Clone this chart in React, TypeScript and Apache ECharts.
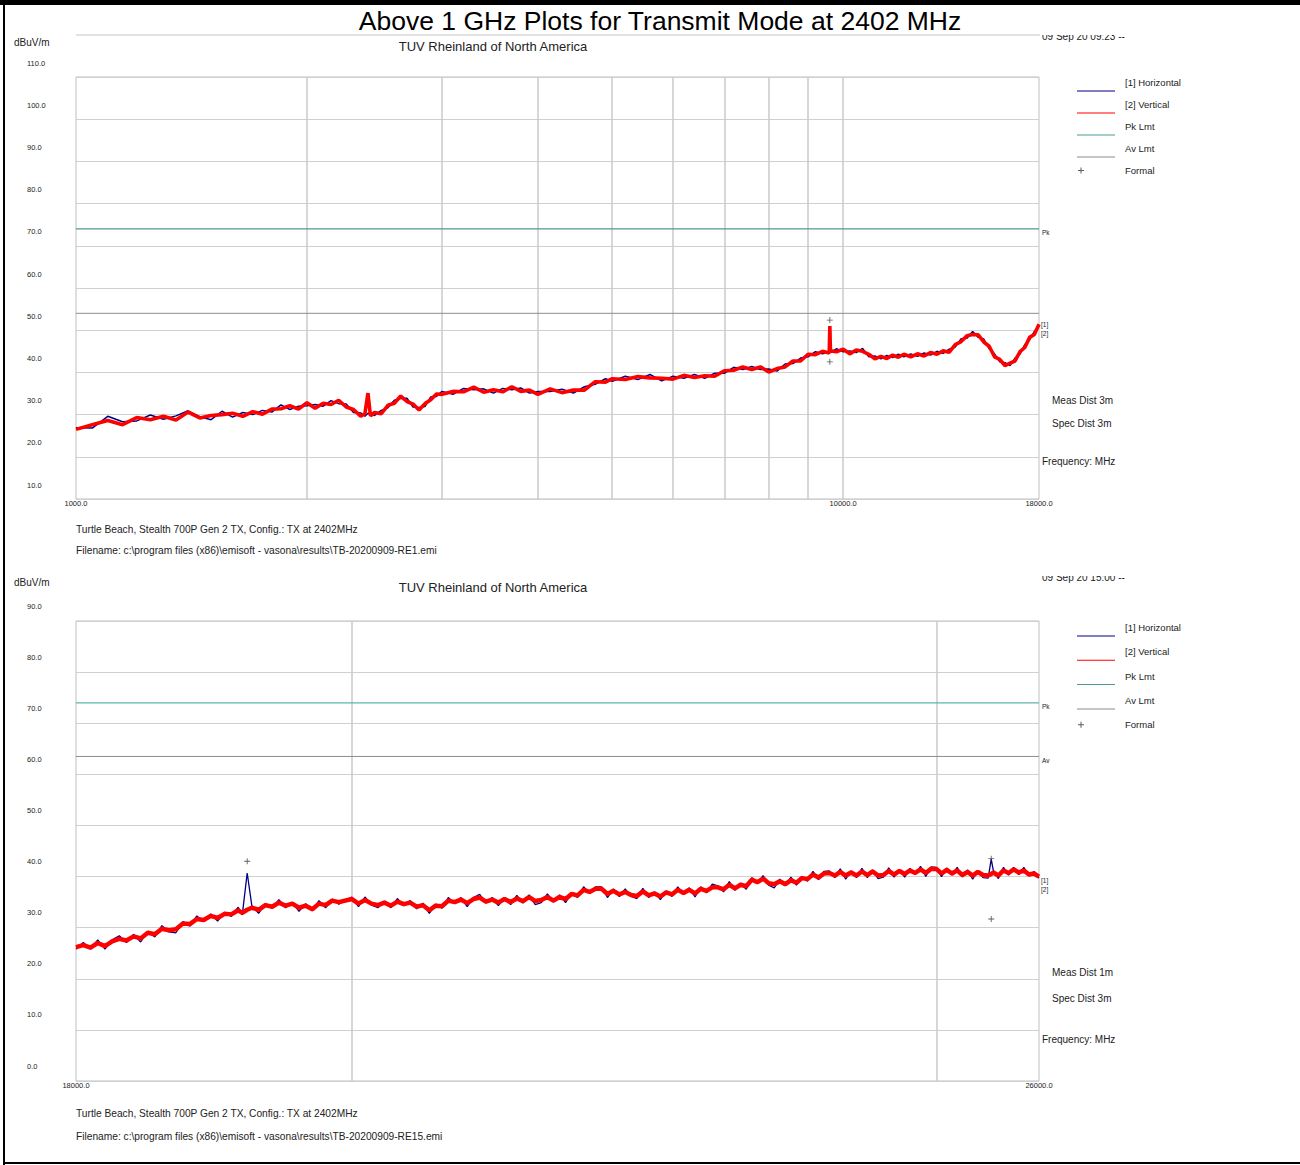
import React, { useEffect, useRef } from "react";
import * as echarts from "echarts";

const FONT = "'Liberation Sans', Arial, Helvetica, sans-serif";

// ---------------- Top plot: 1 – 18 GHz, Meas Dist 3 m ----------------
const TOP_FREQ = [
  1000, 1050, 1100, 1150, 1200, 1250, 1300, 1350, 1400, 1450,
  1500, 1550, 1600, 1650, 1700, 1750, 1800, 1850, 1900, 1950,
  2000, 2050, 2100, 2150, 2200, 2250, 2300, 2350, 2380, 2402,
  2420, 2450, 2500, 2550, 2600, 2650, 2700, 2750, 2800, 2850,
  2900, 2950, 3000, 3100, 3200, 3300, 3400, 3500, 3600, 3700,
  3800, 3900, 4000, 4150, 4300, 4450, 4600, 4750, 4900, 5000,
  5200, 5400, 5600, 5800, 6000, 6200, 6400, 6600, 6800, 7000,
  7200, 7400, 7600, 7800, 8000, 8200, 8400, 8600, 8800, 9000,
  9200, 9400, 9590, 9608, 9625, 9800, 10000, 10200, 10400, 10600,
  10800, 11000, 11200, 11400, 11600, 11800, 12000, 12250, 12500, 12750,
  13000, 13250, 13500, 13750, 14000, 14250, 14500, 14750, 15000, 15250,
  15500, 15750, 16000, 16250, 16500, 16750, 17000, 17250, 17500, 17750,
  18000,
];
const TOP_VERT = [
  26.5, 27.6, 28.6, 27.6, 29.3, 28.8, 29.6, 28.7, 30.6, 29.2,
  29.8, 30.0, 30.3, 29.6, 30.7, 30.1, 31.3, 31.4, 32.1, 31.3,
  32.8, 31.5, 32.7, 32.4, 33.4, 31.8, 31.2, 29.6, 30.2, 35.1,
  29.7, 30.5, 30.2, 32.2, 32.7, 34.4, 33.1, 32.5, 31.1, 32.6,
  33.5, 34.9, 34.8, 35.5, 35.4, 36.5, 35.3, 35.9, 35.4, 36.6,
  35.5, 35.8, 34.8, 36.1, 35.2, 35.8, 35.8, 37.8, 37.7, 38.5,
  38.3, 39.0, 38.7, 38.6, 38.4, 39.3, 38.8, 39.2, 39.1, 40.4,
  40.5, 41.3, 40.7, 41.3, 40.1, 40.9, 41.3, 42.7, 42.7, 44.3,
  44.2, 45.0, 44.6, 51.0, 45.1, 44.9, 45.5, 44.4, 45.3, 45.0,
  44.3, 43.2, 43.8, 43.3, 44.1, 43.6, 44.3, 43.7, 44.4, 43.9,
  44.7, 44.3, 45.1, 44.8, 46.6, 47.3, 48.7, 49.0, 48.9, 47.2,
  46.2, 43.7, 43.1, 41.6, 42.2, 42.7, 44.9, 45.9, 48.3, 49.0,
  51.4,
];
const TOP_HORZ = [
  26.9, 26.8, 29.6, 28.3, 28.5, 29.9, 28.9, 29.7, 30.9, 29.5,
  28.8, 30.8, 29.4, 30.5, 30.0, 31.0, 30.6, 32.3, 31.2, 32.0,
  32.1, 32.4, 32.0, 33.3, 32.6, 32.5, 30.5, 30.4, 29.6, 30.3,
  30.2, 29.8, 31.0, 31.6, 33.4, 33.8, 33.9, 31.8, 31.7, 31.9,
  34.2, 34.3, 35.5, 34.8, 36.2, 35.9, 36.1, 35.1, 36.2, 35.9,
  36.3, 35.1, 35.5, 35.5, 36.0, 35.1, 36.6, 37.2, 38.5, 37.9,
  39.1, 38.3, 39.5, 38.0, 39.1, 38.6, 39.5, 38.6, 39.8, 39.8,
  41.2, 40.7, 41.4, 40.7, 40.8, 40.3, 42.0, 42.1, 43.4, 43.7,
  44.9, 44.4, 45.0, 45.6, 44.7, 45.6, 44.9, 45.1, 44.7, 45.7,
  43.7, 43.9, 43.2, 44.0, 43.5, 44.3, 43.7, 44.4, 43.8, 44.6,
  44.1, 45.0, 44.5, 45.5, 46.0, 48.0, 48.1, 49.7, 48.3, 47.9,
  45.6, 44.4, 42.5, 42.3, 41.6, 43.4, 44.3, 46.6, 47.7, 49.7,
  51.0,
];
const TOP_PK = 74;
const TOP_AV = 54;
const TOP_FORMAL_FREQ = [9608, 9608];
const TOP_FORMAL_VAL = [52.4, 42.5];
const TOP_VGRID = [2000, 3000, 4000, 5000, 6000, 7000, 8000, 9000, 10000];
const TOP_XLABELS = [1000, 10000, 18000];

// ---------------- Bottom plot: 18 – 26 GHz, Meas Dist 1 m ----------------
const BOT_FREQ = [
  18000, 18050, 18100, 18150, 18200, 18250, 18300, 18350, 18400, 18450,
  18500, 18550, 18600, 18650, 18700, 18750, 18800, 18850, 18900, 18950,
  19000, 19050, 19100, 19150, 19180, 19216, 19250, 19300, 19350, 19400,
  19450, 19500, 19550, 19600, 19650, 19700, 19750, 19800, 19850, 19900,
  20000, 20050, 20100, 20150, 20200, 20250, 20300, 20350, 20400, 20450,
  20500, 20550, 20600, 20650, 20700, 20750, 20800, 20850, 20900, 20950,
  21000, 21050, 21100, 21150, 21200, 21250, 21300, 21350, 21400, 21450,
  21500, 21550, 21600, 21650, 21700, 21750, 21800, 21850, 21900, 21950,
  22000, 22050, 22100, 22150, 22200, 22250, 22300, 22350, 22400, 22450,
  22500, 22550, 22600, 22650, 22700, 22750, 22800, 22850, 22900, 22950,
  23000, 23050, 23100, 23150, 23200, 23250, 23300, 23350, 23400, 23450,
  23500, 23550, 23600, 23650, 23700, 23750, 23800, 23850, 23900, 23950,
  24000, 24050, 24100, 24150, 24200, 24250, 24300, 24350, 24400, 24450,
  24500, 24550, 24600, 24650, 24700, 24750, 24800, 24850, 24900, 24950,
  25000, 25050, 25100, 25150, 25200, 25250, 25300, 25350, 25400, 25450,
  25500, 25530, 25550, 25600, 25650, 25700, 25750, 25800, 25850, 25900,
  25950, 26000,
];
const BOT_VERT = [
  26.2, 26.6, 26.1, 27.0, 26.4, 27.3, 27.8, 27.5, 28.3, 27.9,
  29.0, 28.7, 29.8, 29.5, 29.7, 30.8, 30.7, 31.7, 31.5, 32.3,
  31.9, 32.7, 32.6, 33.4, 32.9, 33.5, 33.9, 33.5, 34.4, 34.1,
  34.9, 34.3, 34.7, 33.9, 34.3, 33.6, 34.7, 34.4, 35.3, 35.0,
  35.6, 34.7, 35.4, 34.7, 34.4, 34.9, 34.3, 35.1, 34.6, 34.9,
  34.1, 34.4, 33.4, 34.3, 34.2, 35.3, 35.0, 35.5, 34.8, 35.6,
  35.9, 35.1, 35.5, 34.9, 35.6, 35.0, 35.7, 35.2, 36.0, 35.2,
  35.4, 36.0, 35.3, 36.0, 35.6, 36.6, 36.3, 37.4, 37.0, 37.6,
  37.6, 36.6, 37.2, 36.5, 37.0, 36.4, 36.2, 37.1, 36.3, 36.7,
  36.1, 36.9, 36.5, 37.4, 36.8, 37.4, 36.7, 37.6, 37.2, 37.9,
  37.9, 37.5, 38.4, 37.7, 38.4, 38.1, 39.4, 38.9, 39.6, 38.7,
  38.5, 39.1, 38.5, 39.3, 38.8, 39.7, 39.5, 40.4, 39.8, 40.6,
  40.7, 40.2, 40.9, 40.2, 40.8, 40.2, 41.0, 40.3, 41.0, 40.2,
  40.3, 41.1, 40.4, 41.1, 40.5, 41.2, 40.7, 41.4, 40.7, 41.5,
  41.5, 40.6, 41.3, 40.6, 41.2, 40.3, 40.9, 40.2, 40.9, 40.3,
  40.2, 40.5, 40.8, 40.2, 41.2, 40.7, 41.4, 40.8, 41.2, 40.4,
  40.6, 40.0,
];
const BOT_HORZ = [
  25.8, 27.1, 25.8, 27.6, 25.8, 27.6, 28.4, 27.1, 28.7, 27.2,
  29.3, 28.2, 30.4, 29.2, 29.0, 31.2, 30.3, 32.3, 31.2, 32.7,
  31.3, 33.0, 32.2, 34.0, 32.5, 40.7, 34.3, 32.8, 34.7, 33.8,
  35.5, 33.9, 34.9, 33.2, 34.7, 33.3, 35.3, 33.9, 35.6, 34.6,
  36.0, 34.1, 36.0, 34.4, 33.9, 35.2, 33.9, 35.7, 34.3, 35.3,
  33.7, 34.8, 32.8, 34.6, 33.8, 35.9, 34.7, 35.9, 34.1, 35.9,
  36.5, 34.8, 35.9, 34.3, 35.8, 34.5, 36.3, 34.8, 36.4, 34.5,
  34.9, 36.6, 35.0, 36.4, 34.9, 36.9, 35.9, 38.0, 36.7, 38.0,
  38.0, 35.9, 37.6, 36.1, 37.6, 36.1, 35.7, 37.7, 35.9, 37.0,
  35.5, 37.2, 36.1, 38.0, 36.5, 37.8, 36.0, 38.0, 36.8, 38.5,
  38.2, 37.0, 39.0, 37.3, 38.7, 37.5, 39.8, 38.6, 40.2, 38.3,
  37.8, 39.5, 38.2, 39.9, 38.3, 40.0, 39.1, 41.0, 39.4, 41.0,
  41.1, 39.8, 41.5, 39.5, 41.1, 39.8, 41.6, 39.8, 41.3, 39.6,
  39.9, 41.7, 39.9, 41.4, 39.9, 41.6, 40.4, 42.0, 40.0, 41.9,
  41.8, 40.0, 41.7, 40.3, 41.8, 39.9, 41.3, 39.5, 41.2, 39.8,
  39.7, 43.4, 41.2, 39.6, 41.8, 40.3, 41.8, 40.4, 41.8, 40.1,
  41.0, 39.7,
];
const BOT_PK = 74;
const BOT_AV = 63.5;
const BOT_FORMAL_FREQ = [19216, 25530, 25530];
const BOT_FORMAL_VAL = [43.0, 43.5, 31.7];
const BOT_VGRID = [20000, 25000];
const BOT_XLABELS = [18000, 26000];

const LEGEND_NAMES = ["[1] Horizontal", "[2] Vertical", "Pk Lmt", "Av Lmt", "Formal"];

const LINE_ICON = "path://M0,0 M43,18 M0,17 L38,17 L38,18 L0,18 Z";
const PLUS_ICON = "path://M0,0 M43,18 M1,8.5 L7,8.5 L7,9.5 L1,9.5 Z M3.5,6 L4.5,6 L4.5,12 L3.5,12 Z";
const PLUS_SYMBOL = "path://M0,3 L7,3 L7,4 L0,4 Z M3,0 L4,0 L4,7 L3,7 Z";

const pairs = (f: number[], v: number[]) => f.map((x, i) => [x, v[i]]);
const near = (v: number, list: number[]) => list.some((t) => Math.abs(v - t) / t < 0.004);

function plotSeries(
  idx: number,
  freq: number[],
  horz: number[],
  vert: number[],
  pk: number,
  av: number,
  fFreq: number[],
  fVal: number[],
  vgrid: number[],
  pkColor: string,
  showAvLabel: boolean,
  lblOff: [number, number],
  redWidth: number,
  blueWidth: number
) {
  const fMin = freq[0];
  const fMax = freq[freq.length - 1];
  const base = { xAxisIndex: idx, yAxisIndex: idx, silent: true, animation: false };
  return [
    {
      ...base,
      name: "Av Lmt",
      type: "line",
      z: 2,
      symbol: "none",
      color: "#8c8c8c",
      lineStyle: { color: "#8c8c8c", width: 1 },
      data: pairs([fMin, fMax], [av, av]),
      endLabel: showAvLabel
        ? { show: true, formatter: "Av", fontSize: 6.5, color: "#222", distance: 3, offset: [0, 4] }
        : { show: false },
      markLine: {
        silent: true,
        z: 1,
        symbol: ["none", "none"],
        label: { show: false },
        emphasis: { disabled: true },
        lineStyle: { color: "#cacaca", width: 1.5, type: "solid" },
        data: vgrid.map((v) => ({ xAxis: v })),
      },
    },
    {
      ...base,
      name: "Pk Lmt",
      type: "line",
      z: 2,
      symbol: "none",
      color: pkColor,
      lineStyle: { color: pkColor, width: 1.3 },
      data: pairs([fMin, fMax], [pk, pk]),
      endLabel: { show: true, formatter: "Pk", fontSize: 6.5, color: "#222", distance: 3, offset: [0, 4] },
    },
    {
      ...base,
      name: "[1] Horizontal",
      type: "line",
      z: 3,
      symbol: "none",
      color: "#000080",
      lineStyle: { color: "#000080", width: blueWidth },
      data: pairs(freq, horz),
      endLabel: { show: true, formatter: "[1]", fontSize: 6.5, color: "#222", distance: 2, offset: [0, lblOff[0]] },
    },
    {
      ...base,
      name: "[2] Vertical",
      type: "line",
      z: 4,
      symbol: "none",
      color: "#ff0000",
      lineStyle: { color: "#ff0000", width: redWidth },
      data: pairs(freq, vert),
      endLabel: { show: true, formatter: "[2]", fontSize: 6.5, color: "#222", distance: 2, offset: [0, lblOff[1]] },
    },
    {
      ...base,
      name: "Formal",
      type: "scatter",
      z: 5,
      symbol: PLUS_SYMBOL,
      symbolSize: 6,
      color: "#333333",
      data: pairs(fFreq, fVal),
    },
  ];
}

function xAxis(idx: number, min: number, max: number, labels: number[]) {
  return {
    type: "log",
    logBase: 10,
    gridIndex: idx,
    min,
    max,
    axisLine: { show: false },
    axisTick: { show: false },
    splitLine: { show: false },
    axisLabel: {
      fontSize: 7.5,
      color: "#222",
      margin: 0,
      fontFamily: FONT,
      formatter: (v: number) => (near(v, labels) ? v.toFixed(1) : ""),
    },
  };
}

function yAxis(idx: number, min: number, max: number, shift: number) {
  return {
    type: "value",
    gridIndex: idx,
    min,
    max,
    interval: 10,
    axisLine: { show: false },
    axisTick: { show: false },
    splitLine: { show: true, lineStyle: { color: "#d0d0d0", width: 1 } },
    axisLabel: {
      fontSize: 7.5,
      color: "#222",
      align: "left",
      verticalAlign: "bottom",
      lineHeight: shift * 2,
      margin: 49,
      fontFamily: FONT,
      formatter: (v: number) => v.toFixed(1),
    },
  };
}

function legend(top: number, gap: number) {
  return {
    left: 1077,
    top,
    orient: "vertical",
    padding: 0,
    itemWidth: 43,
    itemHeight: 18,
    itemGap: gap,
    selectedMode: false,
    itemStyle: { borderWidth: 0 },
    textStyle: { fontSize: 9.5, color: "#222", fontFamily: FONT },
    data: LEGEND_NAMES.map((n) => ({ name: n, icon: n === "Formal" ? PLUS_ICON : LINE_ICON })),
  };
}

function txt(x: number, y: number, text: string, size: number, align = "left", extra: any = {}) {
  return {
    type: "text",
    x,
    y,
    z: 50,
    silent: true,
    style: {
      text,
      fontSize: size,
      fontFamily: FONT,
      fill: extra.fill || "#222",
      align,
      textAlign: align,
      verticalAlign: "middle",
      textVerticalAlign: "middle",
    },
  };
}

function buildOption() {
  return {
    animation: false,
    backgroundColor: "#ffffff",
    textStyle: { fontFamily: FONT },
    grid: [
      { left: 76, top: 77, width: 963, height: 422, show: true, borderColor: "#bfbfbf", borderWidth: 1, outerBoundsMode: "none" },
      { left: 76, top: 621, width: 963, height: 460, show: true, borderColor: "#bfbfbf", borderWidth: 1, outerBoundsMode: "none" },
    ],
    xAxis: [xAxis(0, 1000, 18000, TOP_XLABELS), xAxis(1, 18000, 26000, BOT_XLABELS)],
    yAxis: [yAxis(0, 10, 110, 14), yAxis(1, 0, 90, 15)],
    legend: [legend(73.5, 4), legend(618.5, 6.3)],
    series: [
      ...plotSeries(0, TOP_FREQ, TOP_HORZ, TOP_VERT, TOP_PK, TOP_AV, TOP_FORMAL_FREQ, TOP_FORMAL_VAL, TOP_VGRID, "#4f9a92", false, [-1, 9], 3.6, 1.5),
      ...plotSeries(1, BOT_FREQ, BOT_HORZ, BOT_VERT, BOT_PK, BOT_AV, BOT_FORMAL_FREQ, BOT_FORMAL_VAL, BOT_VGRID, "#5cb5ab", true, [2, 13], 4.5, 1.3),
    ],
    graphic: [
      // page frame
      { type: "rect", z: 60, silent: true, shape: { x: 0, y: 0, width: 1300, height: 5 }, style: { fill: "#000" } },
      { type: "rect", z: 60, silent: true, shape: { x: 3, y: 0, width: 2, height: 1165 }, style: { fill: "#000" } },
      { type: "rect", z: 60, silent: true, shape: { x: 3, y: 1162, width: 1297, height: 2 }, style: { fill: "#000" } },
      txt(660, 21, "Above 1 GHz Plots for Transmit Mode at 2402 MHz", 26.5, "center", { fill: "#000" }),
      { type: "line", z: 40, silent: true, shape: { x1: 76, y1: 35, x2: 1040, y2: 35 }, style: { stroke: "#c4c4c4", lineWidth: 1 } },
      // top plot annotations
      txt(1042, 36, "09 Sep 20 09:23 --", 10),
      { type: "rect", z: 55, silent: true, shape: { x: 1040, y: 24, width: 110, height: 11 }, style: { fill: "#fff" } },
      txt(14, 42, "dBuV/m", 10),
      txt(493, 46, "TUV Rheinland of North America", 13, "center"),
      txt(1052, 400, "Meas Dist 3m", 10),
      txt(1052, 423, "Spec Dist 3m", 10),
      txt(1042, 461, "Frequency: MHz", 10),
      txt(76, 529, "Turtle Beach, Stealth 700P Gen 2 TX, Config.: TX at 2402MHz", 10.2),
      txt(76, 550, "Filename: c:\\program files (x86)\\emisoft - vasona\\results\\TB-20200909-RE1.emi", 10.2),
      // bottom plot annotations
      txt(1042, 577, "09 Sep 20 15:00 --", 10),
      { type: "rect", z: 55, silent: true, shape: { x: 1040, y: 565, width: 110, height: 11 }, style: { fill: "#fff" } },
      txt(14, 582, "dBuV/m", 10),
      txt(493, 587, "TUV Rheinland of North America", 13, "center"),
      txt(1052, 972, "Meas Dist 1m", 10),
      txt(1052, 998, "Spec Dist 3m", 10),
      txt(1042, 1039, "Frequency: MHz", 10),
      txt(76, 1113, "Turtle Beach, Stealth 700P Gen 2 TX, Config.: TX at 2402MHz", 10.2),
      txt(76, 1136, "Filename: c:\\program files (x86)\\emisoft - vasona\\results\\TB-20200909-RE15.emi", 10.2),
    ],
  };
}

export default function App() {
  const ref = useRef<HTMLDivElement>(null);
  useEffect(() => {
    if (!ref.current) return;
    const chart = echarts.init(ref.current, null, { renderer: "svg" });
    chart.setOption(buildOption() as any);
    return () => chart.dispose();
  }, []);
  return (
    <div
      ref={ref}
      style={{ position: "absolute", left: 0, top: 0, width: 1300, height: 1165, background: "#ffffff" }}
    />
  );
}
